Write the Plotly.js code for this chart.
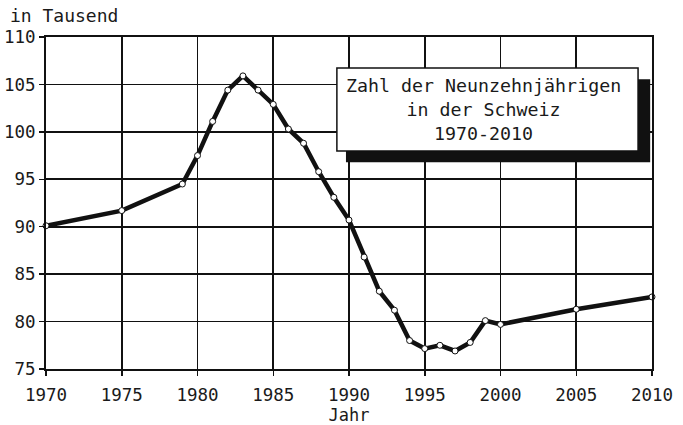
<!DOCTYPE html>
<html>
<head>
<meta charset="utf-8">
<script src="https://cdn.plot.ly/plotly-3.0.1.min.js"></script>
<style>html,body{margin:0;padding:0;background:#fff;}#chart{width:683px;height:425px;}</style>
</head>
<body>
<div id="chart"></div>
<script>
const years = [1970, 1975, 1979, 1980, 1981, 1982, 1983, 1984, 1985, 1986, 1987, 1988, 1989, 1990, 1991, 1992, 1993, 1994, 1995, 1996, 1997, 1998, 1999, 2000, 2005, 2010];
const values = [90.1, 91.7, 94.5, 97.5, 101.1, 104.4, 105.9, 104.4, 102.9, 100.3, 98.8, 95.8, 93.1, 90.7, 86.8, 83.2, 81.2, 78.0, 77.15, 77.5, 76.9, 77.8, 80.1, 79.7, 81.3, 82.6];
const xTicks = [1970, 1975, 1980, 1985, 1990, 1995, 2000, 2005, 2010];
const yTicks = [75, 80, 85, 90, 95, 100, 105, 110];
const titleText = "Zahl der Neunzehnjährigen<br>in der Schweiz<br>1970-2010";
const yLabel = "in Tausend";
const xLabel = "Jahr";

const fontFam = "'DejaVu Sans Mono', 'Liberation Mono', monospace";
const ink = "#1a1a1a";

const trace = {
  x: years, y: values, type: 'scatter', mode: 'lines+markers',
  line: {color: '#111', width: 4.5},
  marker: {symbol: 'circle', size: 6, color: '#fff', line: {color: '#111', width: 1}},
  hoverinfo: 'skip', cliponaxis: false
};

const layout = {
  width: 683, height: 425,
  margin: {l: 46, r: 31, t: 37, b: 56},
  paper_bgcolor: '#fff', plot_bgcolor: '#fff',
  showlegend: false,
  font: {family: fontFam, color: ink, size: 17},
  xaxis: {
    range: [1970, 2010], tickvals: xTicks, ticktext: xTicks.map(String),
    showgrid: true, gridcolor: '#111', gridwidth: 1.6,
    showline: true, linecolor: '#111', linewidth: 2, mirror: true,
    ticks: 'outside', ticklen: 5, tickwidth: 1.5, tickcolor: '#111',
    ticklabelstandoff: 4,
    zeroline: false, fixedrange: true,
    tickfont: {family: fontFam, size: 17.5, color: ink},
    title: {text: xLabel, font: {family: fontFam, size: 17, color: ink}, standoff: 6}
  },
  yaxis: {
    range: [75, 110], tickvals: yTicks, ticktext: yTicks.map(String),
    showgrid: true, gridcolor: '#111', gridwidth: 1.6,
    showline: true, linecolor: '#111', linewidth: 2, mirror: true,
    ticks: 'outside', ticklen: 5, tickwidth: 1.5, tickcolor: '#111',
    zeroline: false, fixedrange: true,
    tickfont: {family: fontFam, size: 17.5, color: ink}
  },
  shapes: [
    {type: 'rect', xref: 'paper', yref: 'paper', x0: 0.495, x1: 0.997, y0: 0.623, y1: 0.873,
     fillcolor: '#111', line: {width: 0}, layer: 'above'},
    {type: 'rect', xref: 'paper', yref: 'paper', x0: 0.480, x1: 0.977, y0: 0.657, y1: 0.907,
     fillcolor: '#fff', line: {color: '#111', width: 1.5}, layer: 'above'}
  ],
  annotations: [
    {text: titleText, xref: 'paper', yref: 'paper', x: 0.722, y: 0.782,
     xanchor: 'center', yanchor: 'middle', showarrow: false, align: 'center',
     font: {family: fontFam, size: 18.3, color: ink}},
    {text: yLabel, xref: 'paper', yref: 'paper', x: -0.063, y: 1.0, yshift: 22,
     xanchor: 'left', yanchor: 'middle', showarrow: false,
     font: {family: fontFam, size: 18, color: ink}}
  ]
};

Plotly.newPlot('chart', [trace], layout, {displayModeBar: false, staticPlot: true});
</script>
</body>
</html>
